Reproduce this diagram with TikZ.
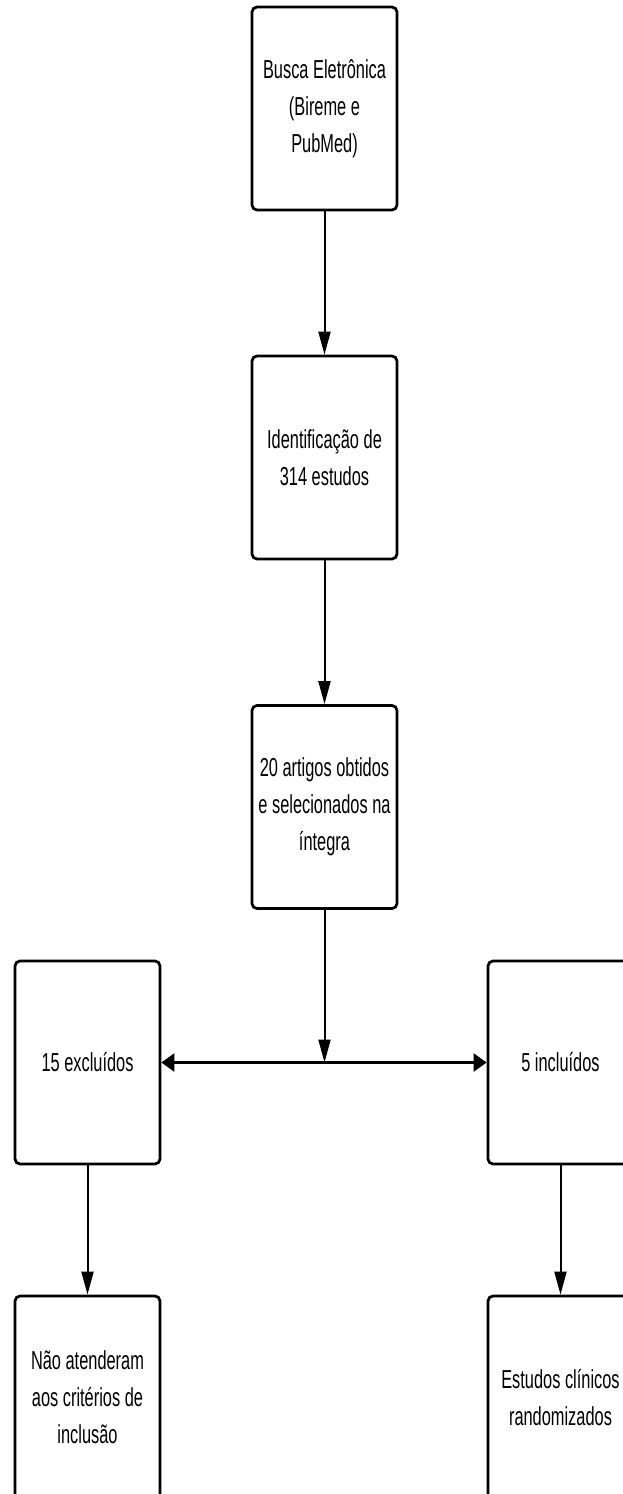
\documentclass[tikz,border=0pt]{standalone}
\usepackage{fontspec}
\setmainfont{Liberation Sans}[FakeStretch=0.63]
\usetikzlibrary{arrows.meta}

\tikzset{
  box/.style={draw, line width=0.55mm, rounded corners=1mm, minimum width=29mm,
    minimum height=40.6mm, align=center, inner sep=0pt,
    font=\fontsize{14.8}{21}\selectfont},
  flow/.style={line width=0.4mm, -{Triangle[length=4.6mm,width=2.4mm]}},
  split/.style={line width=0.5mm,
    {Triangle[length=2.6mm,width=3.6mm]}-{Triangle[length=2.6mm,width=3.6mm]}}
}

\begin{document}
\begin{tikzpicture}[x=0.2mm, y=-0.2mm]
  \useasboundingbox (0,0) rectangle (623,1494);
  \clip (0,0) rectangle (623,1494);

  % Middle column
  \node[box] (busca) at (324.5,108.5) {Busca Eletrônica\\(Bireme e\\PubMed)};
  \node[box] (ident) at (324.5,457.5) {Identificação de\\314 estudos};
  \node[box] (artigos) at (324.5,807) {20 artigos obtidos\\e selecionados na\\íntegra};

  % Left and right columns
  \node[box] (excl) at (87.5,1062.5) {15 excluídos};
  \node[box] (incl) at (560.5,1062.5) {5 incluídos};
  \node[box] (naoatend) at (87.5,1397.5) {Não atenderam\\aos critérios de\\inclusão};
  \node[box] (ensaios) at (560.5,1397.5) {Estudos clínicos\\randomizados};

  % Connectors
  \draw[flow] (busca) -- (ident);
  \draw[flow] (ident) -- (artigos);
  \coordinate (meio) at (artigos |- excl);
  \draw[flow] (artigos) -- (meio);
  \draw[split] (excl) -- (incl);
  \draw[flow] (excl) -- (naoatend);
  \draw[flow] (incl) -- (ensaios);
\end{tikzpicture}
\end{document}
